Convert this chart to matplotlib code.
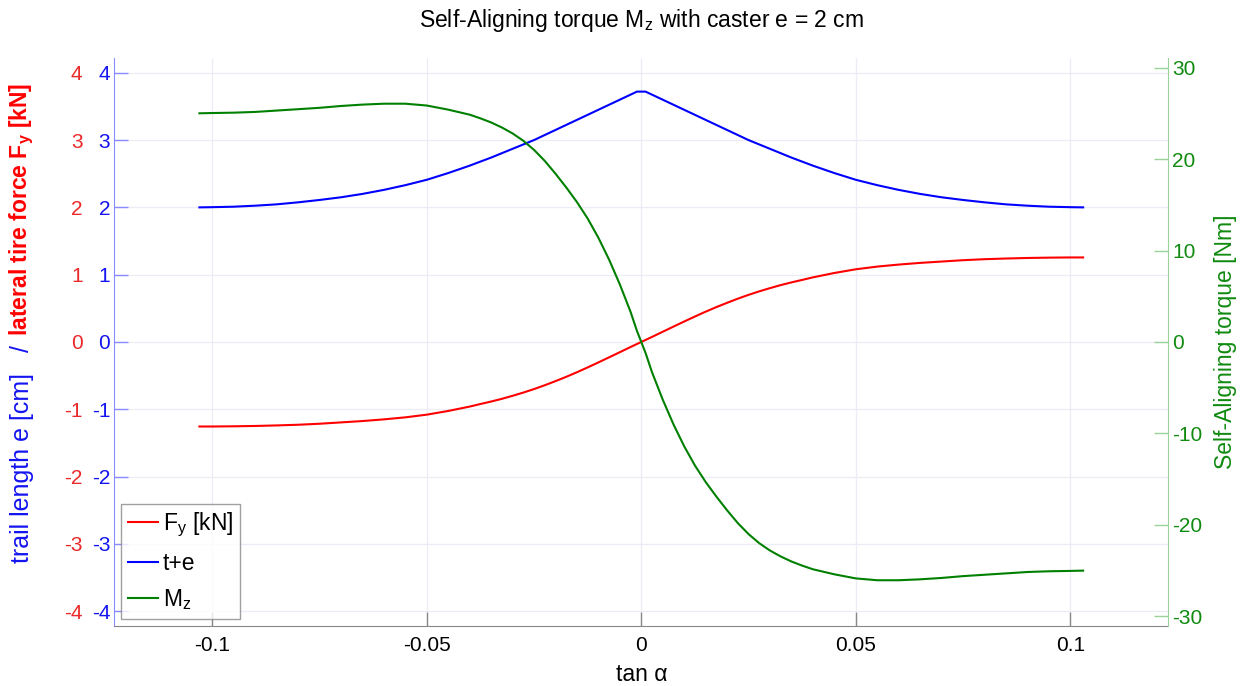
import matplotlib
matplotlib.use("Agg")
import matplotlib.pyplot as plt

# ---------------------------------------------------------------
# Datos (tan alpha, Fy [kN], t+e [cm], Mz [Nm])
# ---------------------------------------------------------------
tan_alpha = [-0.103, -0.1, -0.095, -0.09, -0.085, -0.08, -0.075, -0.07,
             -0.065, -0.06, -0.055, -0.05, -0.045, -0.04, -0.0375, -0.035,
             -0.0325, -0.03, -0.0275, -0.025, -0.0225, -0.02, -0.0175, -0.015,
             -0.0125, -0.01, -0.0075, -0.005, -0.0025, -0.001,
             0.001, 0.0025, 0.005, 0.0075, 0.01, 0.0125, 0.015, 0.0175,
             0.02, 0.0225, 0.025, 0.0275, 0.03, 0.0325, 0.035, 0.0375,
             0.04, 0.045, 0.05, 0.055, 0.06, 0.065, 0.07, 0.075,
             0.08, 0.085, 0.09, 0.095, 0.1, 0.103]

fy_kn = [-1.256, -1.256, -1.253, -1.248, -1.24, -1.23, -1.215, -1.195,
         -1.175, -1.15, -1.12, -1.08, -1.025, -0.96, -0.922, -0.885,
         -0.845, -0.80, -0.752, -0.70, -0.643, -0.582, -0.518, -0.45,
         -0.378, -0.304, -0.228, -0.152, -0.075, -0.03,
         0.03, 0.075, 0.152, 0.228, 0.304, 0.378, 0.45, 0.518,
         0.582, 0.643, 0.70, 0.752, 0.80, 0.845, 0.885, 0.922,
         0.96, 1.025, 1.08, 1.12, 1.15, 1.175, 1.195, 1.215,
         1.23, 1.24, 1.248, 1.253, 1.256, 1.256]

trail_cm = [2.0, 2.003, 2.01, 2.025, 2.045, 2.075, 2.11, 2.15,
            2.20, 2.26, 2.33, 2.41, 2.51, 2.62, 2.68, 2.74,
            2.805, 2.87, 2.935, 3.00, 3.075, 3.15, 3.225, 3.30,
            3.375, 3.45, 3.525, 3.60, 3.675, 3.72,
            3.72, 3.675, 3.60, 3.525, 3.45, 3.375, 3.30, 3.225,
            3.15, 3.075, 3.00, 2.935, 2.87, 2.805, 2.74, 2.68,
            2.62, 2.51, 2.41, 2.33, 2.26, 2.20, 2.15, 2.11,
            2.075, 2.045, 2.025, 2.01, 2.003, 2.0]

mz_nm = [25.0, 25.03, 25.07, 25.15, 25.3, 25.45, 25.6, 25.8,
         25.95, 26.05, 26.05, 25.85, 25.4, 24.85, 24.45, 24.0,
         23.45, 22.8, 22.0, 21.0, 19.8, 18.4, 16.9, 15.3,
         13.5, 11.4, 9.0, 6.3, 3.3, 1.2,
         -1.2, -3.3, -6.3, -9.0, -11.4, -13.5, -15.3, -16.9,
         -18.4, -19.8, -21.0, -22.0, -22.8, -23.45, -24.0, -24.45,
         -24.85, -25.4, -25.85, -26.05, -26.05, -25.95, -25.8, -25.6,
         -25.45, -25.3, -25.15, -25.07, -25.03, -25.0]

x_ticks = [-0.1, -0.05, 0, 0.05, 0.1]
x_tick_labels = ['-0.1', '-0.05', '0', '0.05', '0.1']
left_ticks = [-4, -3, -2, -1, 0, 1, 2, 3, 4]
right_ticks = [-30, -20, -10, 0, 10, 20, 30]

RED = '#ff0000'
BLUE = '#0000ff'
GREEN = '#008000'
RED_TXT = '#ea2a2a'
BLUE_TXT = '#1414f0'
GREEN_TXT = '#108a10'

plt.rcParams['font.family'] = ['Liberation Sans', 'DejaVu Sans']
plt.rcParams['axes.unicode_minus'] = False
FS = 15      # numeros de los ejes
FS_LAB = 16.5  # textos de los ejes

# ---------------------------------------------------------------
# Figura
# ---------------------------------------------------------------
fig = plt.figure(figsize=(12.47, 6.86), dpi=100)
ax = fig.add_axes([0.0918, 0.0875, 0.8449, 0.828])

l_fy, = ax.plot(tan_alpha, fy_kn, color=RED, lw=1.5, label=r'F$_\mathregular{y}$ [kN]')
l_te, = ax.plot(tan_alpha, trail_cm, color=BLUE, lw=1.5, label='t+e')

ax.set_xlim(-0.1228, 0.1228)
ax.set_ylim(-4.22, 4.22)
ax.set_xticks(x_ticks)
ax.set_xticklabels(x_tick_labels)
ax.set_yticks(left_ticks)
ax.set_yticklabels([str(t) for t in left_ticks])

ax.grid(True, color='#ececf6', lw=0.9)
ax.set_axisbelow(True)

ax.tick_params(axis='x', direction='in', length=10, width=1, color='#888888',
               labelsize=FS, pad=7, labelcolor='black')
ax.tick_params(axis='y', direction='in', length=10, width=1, color='#8a8aff',
               labelsize=FS, pad=3, labelcolor=BLUE_TXT)

ax.spines['top'].set_visible(False)
ax.spines['right'].set_visible(False)
ax.spines['left'].set_color('#8a8aff')
ax.spines['bottom'].set_color('#888888')

# etiquetas rojas extra a la izquierda (misma escala)
sec = ax.secondary_yaxis('left')
sec.set_yticks(left_ticks)
sec.set_yticklabels([str(t) for t in left_ticks])
sec.tick_params(axis='y', length=0, pad=23, labelsize=FS, labelcolor=RED_TXT)
sec.spines['left'].set_visible(False)

# eje derecho para el momento
ax2 = ax.twinx()
l_mz, = ax2.plot(tan_alpha, mz_nm, color=GREEN, lw=1.5, label=r'M$_\mathregular{z}$')
ax2.set_ylim(-31.05, 31.05)
ax2.set_yticks(right_ticks)
ax2.set_yticklabels([str(t) for t in right_ticks])
ax2.tick_params(axis='y', direction='in', length=10, width=1, color='#9ad39a',
                labelsize=FS, pad=3, labelcolor=GREEN_TXT)
for s in ['top', 'left', 'bottom']:
    ax2.spines[s].set_visible(False)
ax2.spines['right'].set_color('#9ad39a')
ax2.set_ylabel('Self-Aligning torque [Nm]', color=GREEN_TXT, fontsize=FS_LAB, labelpad=8)

ax.set_xlabel('tan α', fontsize=FS_LAB, labelpad=6)
ax.set_title(r'Self-Aligning torque M$_\mathregular{z}$ with caster e = 2 cm',
             fontsize=16.5, pad=22)

# etiqueta izquierda en dos colores
fig.text(22 / 1247, 1 - 563 / 686, 'trail length e [cm]   / ', color=BLUE_TXT,
         fontsize=18, rotation=90, rotation_mode='anchor', ha='left', va='center')
fig.text(22 / 1247, 1 - 83 / 686, r'lateral tire force F$_\mathregular{y}$ [kN]',
         color=RED, fontsize=FS_LAB, fontweight='bold', rotation=90,
         rotation_mode='anchor', ha='right', va='center')

leg = ax2.legend([l_fy, l_te, l_mz], [l_fy.get_label(), l_te.get_label(), l_mz.get_label()],
                 loc='lower left', fontsize=FS_LAB, frameon=True, fancybox=False,
                 edgecolor='#888888', handlelength=1.3, handletextpad=0.2,
                 borderaxespad=0.3, labelspacing=0.55, borderpad=0.3)
leg.get_frame().set_linewidth(1.0)

fig.savefig('out.png', dpi=100)
